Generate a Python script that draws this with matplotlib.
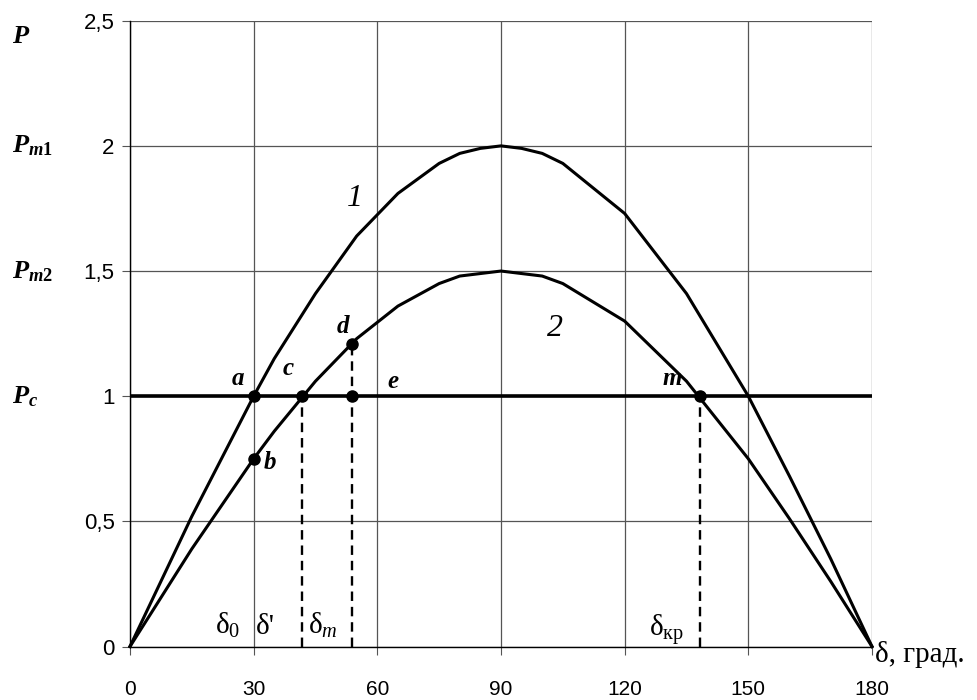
import matplotlib
matplotlib.use("Agg")
import matplotlib.pyplot as plt
import matplotlib.transforms as mtransforms

plt.rcParams['mathtext.fontset'] = 'custom'
plt.rcParams['mathtext.rm'] = 'Liberation Serif'
plt.rcParams['mathtext.it'] = 'Liberation Serif:italic'
plt.rcParams['mathtext.bf'] = 'Liberation Serif:bold'
plt.rcParams['mathtext.bfit'] = 'Liberation Serif:italic:bold'

# angle, degrees, and the two power curves
delta = [0, 15, 30, 35, 45, 55, 65, 75, 80, 85, 90, 95, 100, 105, 120, 135, 150, 160, 170, 180]
P1 = [0, 0.52, 1.0, 1.15, 1.41, 1.64, 1.81, 1.93, 1.97, 1.99, 2.0, 1.99, 1.97, 1.93,
      1.73, 1.41, 1.0, 0.68, 0.35, 0]
P2 = [0, 0.39, 0.75, 0.86, 1.06, 1.23, 1.36, 1.45, 1.48, 1.49, 1.5, 1.49, 1.48, 1.45,
      1.30, 1.06, 0.75, 0.51, 0.26, 0]
Pc = 1.0

# marked points a, b, c, d, e, m
pt_names = ['a', 'b', 'c', 'd', 'e', 'm']
pt_x = [30, 30, 41.8, 53.8, 53.8, 138.2]
pt_y = [1.0, 0.75, 1.0, 1.21, 1.0, 1.0]

# dashed drops to the axis (c, d, m)
drop_x = [41.8, 53.8, 138.2]
drop_y = [1.0, 1.21, 1.0]

xticks = [0, 30, 60, 90, 120, 150, 180]
yticks = [0, 0.5, 1, 1.5, 2, 2.5]
ytick_labels = ["0", "0,5", "1", "1,5", "2", "2,5"]

fig = plt.figure(figsize=(9.78, 7.0), dpi=100)
ax = fig.add_axes([0.1329, 0.0764, 0.7587, 0.8940])

ax.set_xlim(0, 180)
ax.set_ylim(0, 2.5)
ax.set_xticks(xticks)
ax.set_yticks(yticks)
ax.set_yticklabels(ytick_labels)
ax.grid(True, color='#555555', lw=0.9)
ax.set_axisbelow(True)
for s in ['top', 'right']:
    ax.spines[s].set_visible(False)
for s in ['left', 'bottom']:
    ax.spines[s].set_color('black')
    ax.spines[s].set_linewidth(1.0)
ax.tick_params(axis='x', direction='out', length=6, color='#555555', pad=18,
               labelsize=15)
ax.tick_params(axis='y', direction='out', length=6, color='#555555', pad=5,
               labelsize=16)
for lab in ax.get_xticklabels() + ax.get_yticklabels():
    lab.set_fontfamily('Liberation Sans')

ax.axhline(Pc, color='black', lw=2.6, zorder=3)
ax.plot(delta, P1, color='black', lw=2.2, zorder=4, clip_on=False)
ax.plot(delta, P2, color='black', lw=2.2, zorder=4, clip_on=False)

for x, y in zip(drop_x, drop_y):
    ax.plot([x, x], [0, y], color='black', lw=1.7, ls=(0, (4, 2.5)), zorder=3)

ax.plot(pt_x, pt_y, 'o', color='black', markersize=8, zorder=5)

serif_bi = dict(family='Liberation Serif', style='italic', weight='bold', fontsize=18)
lab_pos = {'a': (26.2, 1.07), 'b': (34.0, 0.735), 'c': (38.3, 1.11),
           'd': (51.7, 1.28), 'e': (63.8, 1.06), 'm': (131.5, 1.07)}
for n in pt_names:
    ax.text(lab_pos[n][0], lab_pos[n][1], n, ha='center', va='center', **serif_bi)

ax.text(54.6, 1.79, '1', family='Liberation Serif', style='italic', fontsize=23,
        ha='center', va='center')
ax.text(103.2, 1.27, '2', family='Liberation Serif', style='italic', fontsize=23,
        ha='center', va='center')

serif = dict(family='Liberation Serif', fontsize=21, va='baseline')
ax.text(23.8, 0.052, 'δ$_{\\mathrm{0}}$', ha='center', **serif)
ax.text(32.8, 0.052, "δ'", ha='center', **serif)
ax.text(46.8, 0.052, 'δ$_{\\mathit{m}}$', ha='center', **serif)
ax.text(130.3, 0.040, 'δ$_{\\mathrm{кр}}$', ha='center', **serif)
ax.text(180.8, -0.062, 'δ, град.', ha='left', clip_on=False, **serif)

# P labels to the left of the axis
trans = mtransforms.blended_transform_factory(fig.transFigure, ax.transData)
left_labels = [(2.44, r'$\mathbfit{P}$'),
               (2.0, r'$\mathbfit{P}_{\mathbfit{m}\mathbf{1}}$'),
               (1.5, r'$\mathbfit{P}_{\mathbfit{m}\mathbf{2}}$'),
               (1.0, r'$\mathbfit{P}_{\mathbfit{c}}$')]
for y, s in left_labels:
    fig.text(12 / 978, y, s, transform=trans, fontsize=19, ha='left', va='center')

fig.savefig('out.png', dpi=100)
